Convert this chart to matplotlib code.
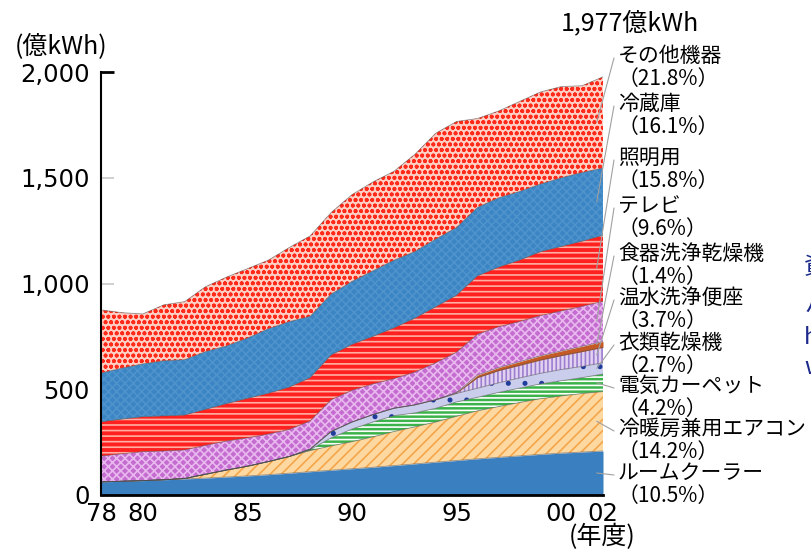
import numpy as np
import matplotlib
matplotlib.use("Agg")
import matplotlib.pyplot as plt

plt.rcParams['font.family'] = ['Noto Sans CJK JP', 'DejaVu Sans']
plt.rcParams['hatch.linewidth'] = 1.2

# Household electricity consumption by appliance (100 million kWh), fiscal years
years = np.arange(1978, 2003)
room_cooler = [62, 65, 68, 72, 76, 80, 85, 90, 96, 103, 110, 117, 124, 131, 139,
               147, 155, 163, 171, 178, 185, 192, 198, 203, 208]
aircon = [0, 0, 0, 0, 2, 18, 33, 46, 62, 79, 100, 115, 128, 144, 161,
          175, 190, 209, 227, 240, 252, 263, 270, 277, 281]
carpet = [0] * 10 + [4, 38, 60, 70, 75, 66, 65, 68, 64, 67, 68, 70, 72, 75, 83]
dryer = [0] * 10 + [3, 30, 33, 35, 35, 38, 40, 40, 43, 45, 48, 50, 53, 53, 53]
toilet_seat = [0] * 17 + [3, 50, 58, 60, 63, 66, 70, 73]
dishwasher = [0] * 17 + [2, 12, 14, 17, 20, 22, 25, 28]
tv = [122, 130, 137, 136, 135, 137, 137, 134, 130, 128, 133, 150, 150, 145, 140,
      155, 175, 190, 193, 193, 190, 190, 189, 189, 190]
lighting = [162, 164, 165, 166, 165, 170, 177, 187, 193, 200, 205, 212, 217, 225, 240,
            255, 265, 270, 276, 282, 290, 302, 305, 308, 312]
fridge = [231, 241, 250, 261, 262, 273, 273, 285, 305, 310, 290, 288, 298, 310, 320,
          315, 320, 320, 324, 328, 325, 320, 325, 325, 318]
other = [298, 262, 236, 264, 274, 307, 325, 328, 324, 350, 380, 385, 410, 420, 420,
         459, 500, 501, 420, 410, 425, 435, 431, 410, 431]

names = ["ルームクーラー", "冷暖房兼用エアコン", "電気カーペット", "衣類乾燥機",
         "温水洗浄便座", "食器洗浄乾燥機", "テレビ", "照明用", "冷蔵庫", "その他機器"]
series = [room_cooler, aircon, carpet, dryer, toilet_seat, dishwasher, tv,
          lighting, fridge, other]

# fill colour, hatch colour, hatch pattern for each layer (bottom to top)
styles = [
    ("#3a7fbf", None, None),
    ("#fdd8a0", "#f5a64a", "///"),
    ("#3cb34a", "#ffffff", "----"),
    ("#cacdeb", "#1f3c9c", "."),
    ("#e2d2f2", "#9c7ed0", "||||"),
    ("#c45a26", None, None),
    ("#c46ccf", "#e9b8ee", "xxxx"),
    ("#ff2020", "#ffb0a2", "---"),
    ("#3b85c4", "#4e93cc", "xxxx"),
    ("#ffcfc4", "#ff2a1a", "ooo"),
]

W, H = 811, 559
fig = plt.figure(figsize=(W / 100, H / 100), dpi=100)
ax = fig.add_axes([101 / W, (H - 495) / H, 502 / W, (495 - 72) / H])


def fx(x):
    return x / W


def fy(y):
    return 1 - y / H


vals = np.array(series, dtype=float)
tops = np.cumsum(vals, axis=0)
bottoms = tops - vals

for i, (face, hcol, hatch) in enumerate(styles):
    ax.fill_between(years, bottoms[i], tops[i], facecolor=face,
                    edgecolor=hcol if hatch else face, hatch=hatch,
                    linewidth=0, zorder=2)
for i in range(len(series)):
    ax.plot(years, tops[i], color="#505050", lw=0.6, alpha=0.6, zorder=3)

ax.set_xlim(1978, 2002)
ax.set_ylim(0, 2000)
for s in ("top", "right"):
    ax.spines[s].set_visible(False)
ax.spines["left"].set_linewidth(1.5)
ax.spines["bottom"].set_linewidth(2)
ax.spines["left"].set_zorder(5)
ax.spines["bottom"].set_zorder(5)

ax.set_yticks([0, 500, 1000, 1500, 2000])
ax.set_yticklabels(["0", "500", "1,000", "1,500", "2,000"], fontsize=17.5,
                   family="DejaVu Sans")
ax.tick_params(axis="y", direction="in", length=9, width=1.2,
               color="#c8c8c8", pad=8)
top_tick = ax.yaxis.get_major_ticks()[-1]
top_tick.tick1line.set_markeredgecolor("black")
top_tick.tick1line.set_markeredgewidth(2)
top_tick.tick1line.set_zorder(6)

ax.set_xticks([1978, 1980, 1985, 1990, 1995, 2000, 2002])
ax.set_xticklabels(["78", "80", "85", "90", "95", "00", "02"], fontsize=17.5,
                   family="DejaVu Sans")
ax.tick_params(axis="x", length=0, pad=5)

# Unit labels
fig.text(fx(61), fy(47), "(億kWh)", fontsize=18, ha="center", va="center")
fig.text(fx(602), fy(537), "(年度)", fontsize=18, ha="center", va="center")

total_last = int(tops[-1][-1])
fig.text(fx(630), fy(23), f"{total_last:,}億kWh", fontsize=18,
         ha="center", va="center")

# Appliance labels with shares of the final year
name_y = [472, 428, 385, 342, 297, 253, 205, 157, 103, 55]
for i, name in enumerate(names):
    share = vals[i][-1] / tops[-1][-1] * 100
    fig.text(fx(618), fy(name_y[i] - 10), f"{name}\n（{share:.1f}%）",
             fontsize=15, ha="left", va="top", linespacing=1.05)
    mid = (bottoms[i][-1] + tops[i][-1]) / 2
    ax.annotate("", xy=(2001.7, mid), xycoords="data",
                xytext=(fx(614), fy(name_y[i] + 3)),
                textcoords="figure fraction",
                arrowprops=dict(arrowstyle="-", color="#a0a0a0", lw=0.8,
                                shrinkA=0, shrinkB=0),
                annotation_clip=False, zorder=6)

# Neighbouring page text running off the right edge
for ch, yy in zip(["資", "パ", "h", "w"], [268, 305, 337, 368]):
    fig.text(fx(804), fy(yy), ch, fontsize=17, color="#1b2a8a",
             ha="left", va="center")

fig.savefig("out.png", dpi=100)
